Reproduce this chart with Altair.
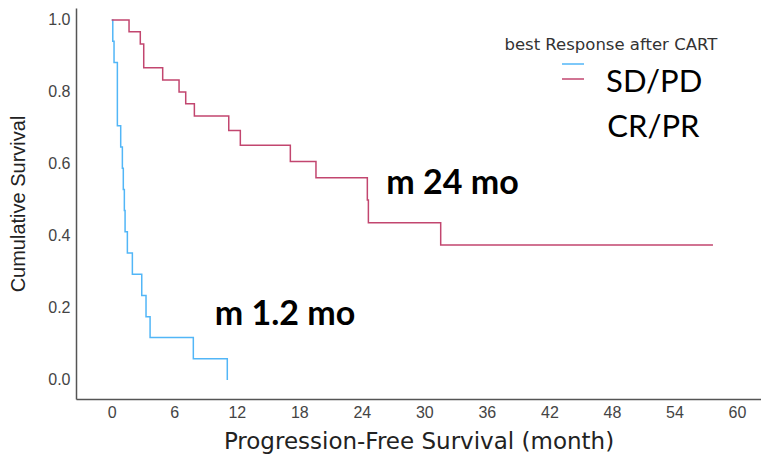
import altair as alt
import pandas as pd

# Kaplan-Meier step curves
sd_time = [0, 0.1, 0.22, 0.54, 0.86, 1.02, 1.11, 1.21, 1.28, 1.5, 1.98, 2.88, 3.29, 3.68, 7.83, 11.09]
sd_surv = [1.0, 0.941, 0.882, 0.706, 0.647, 0.588, 0.529, 0.471, 0.412, 0.353, 0.294, 0.235, 0.176, 0.118, 0.059, 0.0]
cr_time = [0, 1.66, 2.74, 3.07, 4.89, 6.46, 7.1, 7.93, 11.23, 12.34, 17.14, 19.6, 24.53, 24.63, 31.57, 57.7]
cr_surv = [1.0, 0.967, 0.933, 0.867, 0.833, 0.8, 0.767, 0.733, 0.693, 0.652, 0.607, 0.562, 0.5, 0.437, 0.375, 0.375]

groups = ["SD/PD", "CR/PR"]
colors = ["#52b6f7", "#c2466f"]
x_ticks = [0, 6, 12, 18, 24, 30, 36, 42, 48, 54, 60]
y_ticks = [0.0, 0.2, 0.4, 0.6, 0.8, 1.0]

median_labels = ["m 24 mo", "m 1.2 mo"]
median_x = [32.7, 16.63]
median_y = [0.516, 0.153]

key_labels = ["SD/PD", "CR/PR"]
key_x = [52.06, 51.98]
key_y = [0.801, 0.676]

legend_title = ["best Response after CART"]
legend_title_x = [47.9]
legend_title_y = [0.917]

rows = []
for i, (t, s) in enumerate(zip(sd_time, sd_surv)):
    rows.append({"time": t, "surv": s, "group": groups[0], "order": i})
for i, (t, s) in enumerate(zip(cr_time, cr_surv)):
    rows.append({"time": t, "surv": s, "group": groups[1], "order": i})
df = pd.DataFrame(rows)

x_scale = alt.Scale(domain=[-3.43, 62.31], nice=False, zero=False)
y_scale = alt.Scale(domain=[-0.0528, 1.0333], nice=False, zero=False)

lines = alt.Chart(df).mark_line(interpolate="step-after", strokeWidth=1.5).encode(
    x=alt.X("time:Q", scale=x_scale,
            axis=alt.Axis(values=x_ticks, title="Progression-Free Survival (month)",
                          titleFont="DejaVu Sans", titleFontSize=23, titlePadding=10,
                          labelPadding=5)),
    y=alt.Y("surv:Q", scale=y_scale,
            axis=alt.Axis(values=y_ticks, format=".1f", title="Cumulative Survival",
                          titleFont="Liberation Sans", titleFontSize=20, titlePadding=19,
                          labelPadding=6)),
    color=alt.Color("group:N", scale=alt.Scale(domain=groups, range=colors),
                    legend=alt.Legend(title=None, orient="none", legendX=485, legendY=44,
                                      symbolType="stroke", symbolSize=484, symbolStrokeWidth=1.5,
                                      labelExpr="''", labelFontSize=1, rowPadding=0,
                                      padding=0, offset=0)),
    order="order:Q",
)

med_df = pd.DataFrame({"label": median_labels, "x": median_x, "y": median_y})
med = alt.Chart(med_df).mark_text(font="Lato", fontSize=34, fontWeight="bold", color="black",
                                  align="center", baseline="alphabetic").encode(
    x=alt.X("x:Q", scale=x_scale), y=alt.Y("y:Q", scale=y_scale), text="label:N")

key_df = pd.DataFrame({"label": key_labels, "x": key_x, "y": key_y})
key = alt.Chart(key_df).mark_text(font="Lato", fontSize=31, color="black",
                                  align="center", baseline="alphabetic").encode(
    x=alt.X("x:Q", scale=x_scale), y=alt.Y("y:Q", scale=y_scale), text="label:N")

lt_df = pd.DataFrame({"label": legend_title, "x": legend_title_x, "y": legend_title_y})
lt = alt.Chart(lt_df).mark_text(font="DejaVu Sans", fontSize=16.5, color="#333",
                                align="center", baseline="alphabetic").encode(
    x=alt.X("x:Q", scale=x_scale), y=alt.Y("y:Q", scale=y_scale), text="label:N")

chart = alt.layer(lines, med, key, lt).properties(
    width=685, height=391,
    autosize=alt.AutoSizeParams(type="none"),
    padding={"left": 68, "top": 0, "right": 0, "bottom": 55},
).configure_view(stroke=None).configure_axis(
    grid=False, ticks=False, domainColor="#555", domainWidth=1.5,
    labelFont="Liberation Sans", labelFontSize=16, labelColor="#444",
    titleColor="#222", titleFontWeight="normal",
)

chart.save("out.html", embed_options={"renderer": "svg", "actions": False})
